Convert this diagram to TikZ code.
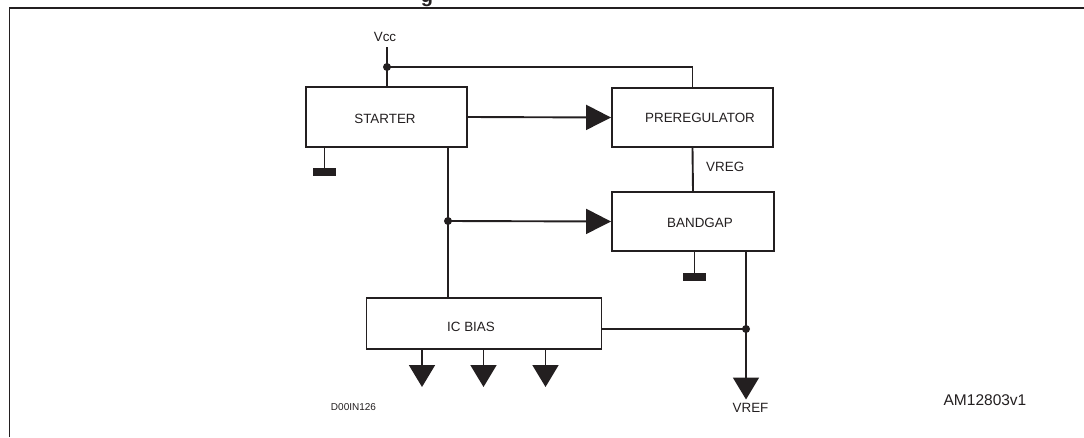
\documentclass[tikz,border=0pt]{standalone}
\usepackage{fontspec}
\setmainfont{Liberation Sans}
\usetikzlibrary{arrows.meta}
\definecolor{ink}{HTML}{231F20}
\tikzset{
  blk/.style={draw=ink, line width=1.9pt, inner sep=0pt},
  lbl/.style={text=ink, inner sep=0pt, font=\fontsize{13.4}{15}\selectfont},
  wire/.style={draw=ink, line width=1.9pt},
  arr/.style={wire, -{Triangle[length=25pt,width=25pt]}},
  darr/.style={wire, -{Triangle[length=22pt,width=26pt]}},
  dot/.style={circle, fill=ink, inner sep=0pt, minimum size=8pt},
  gnd/.style={fill=ink, inner sep=0pt, minimum width=23.5pt, minimum height=7.5pt},
}
\begin{document}
\begin{tikzpicture}[x=1pt,y=-1pt]
\useasboundingbox (0,0) rectangle (1084,437);
% frame and cut title
\draw[ink, line width=1.6pt] (9.5,437) -- (9.5,8) -- (1084,8);
\node[anchor=base, inner sep=0pt, text=ink, font=\bfseries\fontsize{20}{22}\selectfont] (ttl) at (427,2) {g};

% blocks
\node[blk, minimum width=161pt, minimum height=60pt] (starter) at (386.5,117) {};
\node[lbl] (tstarter) at (385,119) {STARTER};
\node[blk, minimum width=161pt, minimum height=59pt] (prereg) at (692.5,117.5) {};
\node[lbl] (tprereg) at (700,117.5) {PREREGULATOR};
\node[blk, minimum width=162pt, minimum height=59pt] (bandgap) at (693,221.5) {};
\node[lbl] (tbandgap) at (700,222.5) {BANDGAP};
\node[blk, minimum width=235pt, minimum height=51pt] (icbias) at (484,323.5) {};
\node[lbl] (ticbias) at (471,327) {IC BIAS};

% labels
\node[lbl] (vcc) at (385,37) {Vcc};
\node[lbl, anchor=west] (vreg) at (706,167) {VREG};
\node[lbl] (vref) at (750.5,408) {VREF};
\node[text=ink, inner sep=0pt, font=\fontsize{10}{12}\selectfont] (code1) at (353.5,407.5) {D00IN126};
\node[text=ink, inner sep=0pt, font=\fontsize{15.5}{17}\selectfont] (code2) at (985,400) {AM12803v1};

% junctions
\node[dot] (j1) at (387,67) {};
\node[dot] (j2) at (448,221) {};
\node[dot] (j3) at (746,329) {};
\coordinate (vcctop) at (387,47);

% Vcc feed
\draw[wire] (vcctop) -- (j1.center) -- (j1 |- starter.north);
\draw[wire] (j1.center) -| (prereg.north);

% starter -> preregulator
\draw[arr] (starter.east) -- (prereg.west);
% preregulator -> bandgap
\draw[wire] (prereg.south) -- (bandgap.north);
% starter down to ic bias, tap to bandgap
\draw[wire] (starter.south -| j2) -- (j2.center) -- (j2 |- icbias.north);
\draw[arr] (j2.center) -- (bandgap.west);
% bandgap -> vref
\draw[wire] (j3 |- bandgap.south) -- (j3.center);
\draw[wire] (icbias.east |- j3) -- (j3.center);
\coordinate (vreftip) at (746,399.5);
\draw[darr] (j3.center) -- (vreftip);

% ic bias outputs
\coordinate (o1) at (422,387);
\coordinate (o2) at (483.5,387);
\coordinate (o3) at (545.5,387);
\draw[darr] (icbias.south -| o1) -- (o1);
\draw[darr] (icbias.south -| o2) -- (o2);
\draw[darr] (icbias.south -| o3) -- (o3);

% grounds
\node[gnd] (g1) at (324.5,172) {};
\draw[wire] (starter.south -| g1) -- (g1.north);
\node[gnd] (g2) at (694.5,277) {};
\draw[wire] (bandgap.south -| g2) -- (g2.north);
\end{tikzpicture}
\end{document}
